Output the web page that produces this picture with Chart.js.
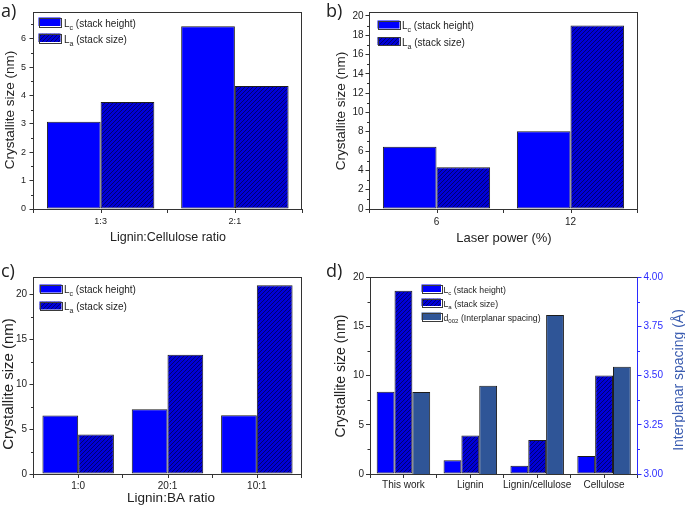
<!DOCTYPE html>
<html><head><meta charset="utf-8">
<script src="https://cdn.jsdelivr.net/npm/chart.js@4/dist/chart.umd.min.js"></script>
<style>
html,body{margin:0;padding:0;background:#fff;}
#wrap{position:relative;width:685px;height:509px;overflow:hidden;background:#fff;}
canvas{position:absolute;left:0;top:0;}
</style></head><body>
<div id="wrap">
<canvas id="ca" width="685" height="509"></canvas>
<canvas id="cb" width="685" height="509"></canvas>
<canvas id="cc" width="685" height="509"></canvas>
<canvas id="cd" width="685" height="509"></canvas>
</div>
<script>
// ---------------- data ----------------
const catsA = ['1:3', '2:1'];
const lcA = [3.07, 6.44];
const laA = [3.77, 4.33];

const catsB = ['6', '12'];
const lcB = [6.45, 8.04];
const laB = [4.33, 19.0];

const catsC = ['1:0', '20:1', '10:1'];
const lcC = [6.49, 7.20, 6.53];
const laC = [4.38, 13.25, 20.97];

const catsD = ['This work', 'Lignin', 'Lignin/cellulose', 'Cellulose'];
const lcD = [8.36, 1.40, 0.85, 1.84];
const laD = [18.6, 3.90, 3.44, 10.0];
const dD = [3.416, 3.448, 3.807, 3.545];

// ---------------- styles ----------------
const FAM = '"Liberation Sans", Arial, sans-serif';
const FRAME = '#333333';
const TXT = '#222222';
const BLUE_AX = '#2b2bff';
const LC_COL = '#0000ff';
const D_COL = '#2f5597';

function hatch() {
  const c = document.createElement('canvas');
  c.width = 4; c.height = 4;
  const g = c.getContext('2d');
  g.fillStyle = '#0000d8'; g.fillRect(0, 0, 4, 4);
  g.strokeStyle = '#000070'; g.lineWidth = 1;
  g.beginPath();
  g.moveTo(0, 4); g.lineTo(4, 0);
  g.moveTo(-1, 1); g.lineTo(1, -1);
  g.moveTo(3, 5); g.lineTo(5, 3);
  g.stroke();
  return g.createPattern(c, 'repeat');
}
const LA_COL = hatch();

function subText(ctx, x, y, main, sub, rest, size) {
  ctx.font = size + 'px ' + FAM;
  ctx.fillText(main, x, y); x += ctx.measureText(main).width;
  ctx.font = (size * 0.7) + 'px ' + FAM;
  ctx.fillText(sub, x, y + size * 0.3); x += ctx.measureText(sub).width;
  ctx.font = size + 'px ' + FAM;
  ctx.fillText(rest, x, y);
}

const framePlugin = {
  id: 'frame',
  afterDraw(chart, args, o) {
    const ctx = chart.ctx, a = chart.chartArea;
    ctx.save();
    ctx.lineWidth = 1;
    ctx.strokeStyle = FRAME;
    const R = Math.round(a.right) - 0.5;
    const T = Math.round(a.top) + 0.5;
    ctx.beginPath();
    ctx.moveTo(a.left, T); ctx.lineTo(a.right, T);
    if (!o.rightAxis) { ctx.moveTo(R, a.top); ctx.lineTo(R, a.bottom); }
    ctx.stroke();
    // minor ticks
    (o.minor || []).forEach(m => {
      const s = chart.scales[m.id];
      ctx.strokeStyle = m.color || FRAME;
      ctx.beginPath();
      for (let k = 1; ; k++) {
        const v = s.min + k * m.step;
        if (v > s.max + 1e-9) break;
        if (k % 2 === 0) continue;
        const py = Math.round(s.getPixelForValue(v)) + 0.5;
        if (m.id === 'y2') { ctx.moveTo(a.right, py); ctx.lineTo(a.right + 2.5, py); }
        else { ctx.moveTo(a.left - 2.5, py); ctx.lineTo(a.left, py); }
      }
      ctx.stroke();
    });
    // x centre ticks
    const xs = chart.scales.x;
    ctx.strokeStyle = FRAME;
    ctx.beginPath();
    xs.getLabels().forEach((l, i) => {
      const px = Math.round(xs.getPixelForValue(i)) + 0.5;
      ctx.moveTo(px, a.bottom); ctx.lineTo(px, a.bottom + 4);
    });
    ctx.stroke();
    // legend
    const lg = o.legend;
    if (lg) {
      lg.items.forEach((it, i) => {
        const ds = chart.data.datasets[it.ds];
        const y = lg.y + i * lg.dy;
        ctx.fillStyle = ds.backgroundColor;
        ctx.fillRect(lg.x, y, lg.sw, lg.sh);
        ctx.strokeStyle = '#3a3a3a';
        ctx.strokeRect(Math.round(lg.x) + 0.5, Math.round(y) + 0.5, Math.round(lg.sw), Math.round(lg.sh));
        ctx.fillStyle = TXT;
        ctx.textAlign = 'left'; ctx.textBaseline = 'alphabetic';
        subText(ctx, lg.tx, y + lg.sh + 0.5, it.main, it.sub, it.rest, lg.size);
      });
    }
    // titles
    (o.titles || []).forEach(t => {
      ctx.save();
      ctx.translate(t.x, t.y);
      if (t.rot) ctx.rotate(t.rot);
      ctx.font = t.size + 'px ' + (t.family || FAM);
      ctx.fillStyle = t.color || TXT;
      ctx.textAlign = t.align || 'center';
      ctx.textBaseline = t.base || 'middle';
      ctx.fillText(t.text, 0, 0);
      ctx.restore();
    });
    ctx.restore();
  }
};

const W = 28, H = 20;

function build(id, p) {
  const datasets = p.series.map(s => ({
    label: s.label, data: s.data, backgroundColor: s.bg,
    borderColor: '#1c1c1c', borderWidth: 1, borderSkipped: false,
    yAxisID: s.axis || 'y', categoryPercentage: 0.8, barPercentage: 1.0
  }));
  const scales = {
    x: {
      type: 'category', labels: p.cats, offset: true,
      grid: { display: true, drawOnChartArea: false, drawTicks: true, tickLength: 4, color: FRAME, offset: true },
      border: { display: true, color: FRAME, width: 1 },
      ticks: { font: { family: FAM, size: p.xtick }, color: TXT, padding: p.xpad, maxRotation: 0, autoSkip: false },
      afterFit: s => { s.height = H; }
    },
    y: {
      type: 'linear', position: 'left', min: 0, max: p.ymax,
      grid: { display: true, drawOnChartArea: false, drawTicks: true, tickLength: 4, color: FRAME },
      border: { display: true, color: FRAME, width: 1 },
      ticks: { stepSize: p.ystep, includeBounds: false, font: { family: FAM, size: p.ytick }, color: TXT, padding: p.ypad },
      afterFit: s => { s.width = W; }
    }
  };
  let minor = [{ id: 'y', step: p.ystep / 2 }];
  let padRight = 685 - p.area[2];
  if (p.right) {
    scales.y2 = {
      type: 'linear', position: 'right', min: p.right.min, max: p.right.max,
      grid: { display: true, drawOnChartArea: false, drawTicks: true, tickLength: 4, color: BLUE_AX },
      border: { display: true, color: BLUE_AX, width: 1 },
      ticks: { stepSize: p.right.step, includeBounds: false, font: { family: FAM, size: p.ytick }, color: BLUE_AX, padding: 2,
               callback: v => v.toFixed(2) },
      afterFit: s => { s.width = 30; }
    };
    minor.push({ id: 'y2', step: p.right.step / 2, color: BLUE_AX });
    padRight -= 30;
  }
  return new Chart(document.getElementById(id), {
    type: 'bar',
    data: { labels: p.cats, datasets },
    options: {
      responsive: false, animation: false, devicePixelRatio: 1,
      layout: { padding: { left: p.area[0] - W, top: p.area[1], right: padRight, bottom: 509 - p.area[3] - H } },
      plugins: {
        legend: { display: false }, tooltip: { enabled: false },
        frame: { rightAxis: !!p.right, minor, legend: p.legend, titles: p.titles }
      },
      scales
    },
    plugins: [framePlugin]
  });
}

const legItems = [
  { ds: 0, main: 'L', sub: 'c', rest: ' (stack height)' },
  { ds: 1, main: 'L', sub: 'a', rest: ' (stack size)' }
];
const LETTER = '"Open Sans", sans-serif';

build('ca', {
  cats: catsA, area: [33.5, 12, 302, 209], ymax: 6.94, ystep: 1, xtick: 9, ytick: 9, xpad: 3, ypad: 3.5,
  series: [{ label: 'Lc', data: lcA, bg: LC_COL }, { label: 'La', data: laA, bg: LA_COL }],
  legend: { x: 38.5, y: 17.5, dy: 16, sw: 22, sh: 8.5, tx: 64, size: 10, items: legItems },
  titles: [
    { text: 'a)', x: 1, y: 17, size: 18, align: 'left', base: 'alphabetic', family: LETTER },
    { text: 'Crystallite size (nm)', x: 10, y: 110, rot: -Math.PI / 2, size: 13.5 },
    { text: 'Lignin:Cellulose ratio', x: 168, y: 238, size: 12.5 }
  ]
});

build('cb', {
  cats: catsB, area: [369.5, 12, 637.5, 209], ymax: 20.4, ystep: 2, xtick: 10, ytick: 10, xpad: 3, ypad: 2,
  series: [{ label: 'Lc', data: lcB, bg: LC_COL }, { label: 'La', data: laB, bg: LA_COL }],
  legend: { x: 377.5, y: 20.5, dy: 16.5, sw: 22, sh: 8, tx: 402, size: 10, items: legItems },
  titles: [
    { text: 'b)', x: 326, y: 17, size: 18, align: 'left', base: 'alphabetic', family: LETTER },
    { text: 'Crystallite size (nm)', x: 341, y: 111, rot: -Math.PI / 2, size: 13.5 },
    { text: 'Laser power (%)', x: 504, y: 238, size: 13 }
  ]
});

build('cc', {
  cats: catsC, area: [33.5, 277, 301.5, 474], ymax: 21.9, ystep: 5, xtick: 10, ytick: 10, xpad: 2, ypad: 2.5,
  series: [{ label: 'Lc', data: lcC, bg: LC_COL }, { label: 'La', data: laC, bg: LA_COL }],
  legend: { x: 39.5, y: 284.5, dy: 17, sw: 22, sh: 8, tx: 64, size: 10, items: legItems },
  titles: [
    { text: 'c)', x: 1, y: 277, size: 18, align: 'left', base: 'alphabetic', family: LETTER },
    { text: 'Crystallite size (nm)', x: 9, y: 384, rot: -Math.PI / 2, size: 15 },
    { text: 'Lignin:BA ratio', x: 171, y: 498, size: 13.5 }
  ]
});

build('cd', {
  cats: catsD, area: [370, 277, 637.5, 474], ymax: 20, ystep: 5, xtick: 10, ytick: 10, xpad: 1, ypad: 2,
  right: { min: 3, max: 4, step: 0.25 },
  series: [{ label: 'Lc', data: lcD, bg: LC_COL }, { label: 'La', data: laD, bg: LA_COL },
           { label: 'd002', data: dD, bg: D_COL, axis: 'y2' }],
  legend: { x: 421.5, y: 284.5, dy: 14, sw: 19.5, sh: 7.5, tx: 443.5, size: 8.7,
    items: [legItems[0], legItems[1], { ds: 2, main: 'd', sub: '002', rest: ' (Interplanar spacing)' }] },
  titles: [
    { text: 'd)', x: 326, y: 277, size: 18, align: 'left', base: 'alphabetic', family: LETTER },
    { text: 'Crystallite size (nm)', x: 341, y: 376, rot: -Math.PI / 2, size: 14 },
    { text: 'Interplanar spacing (\u00C5)', x: 679, y: 380, rot: -Math.PI / 2, size: 14, color: '#3a5cb0' }
  ]
});
</script>
</body></html>
